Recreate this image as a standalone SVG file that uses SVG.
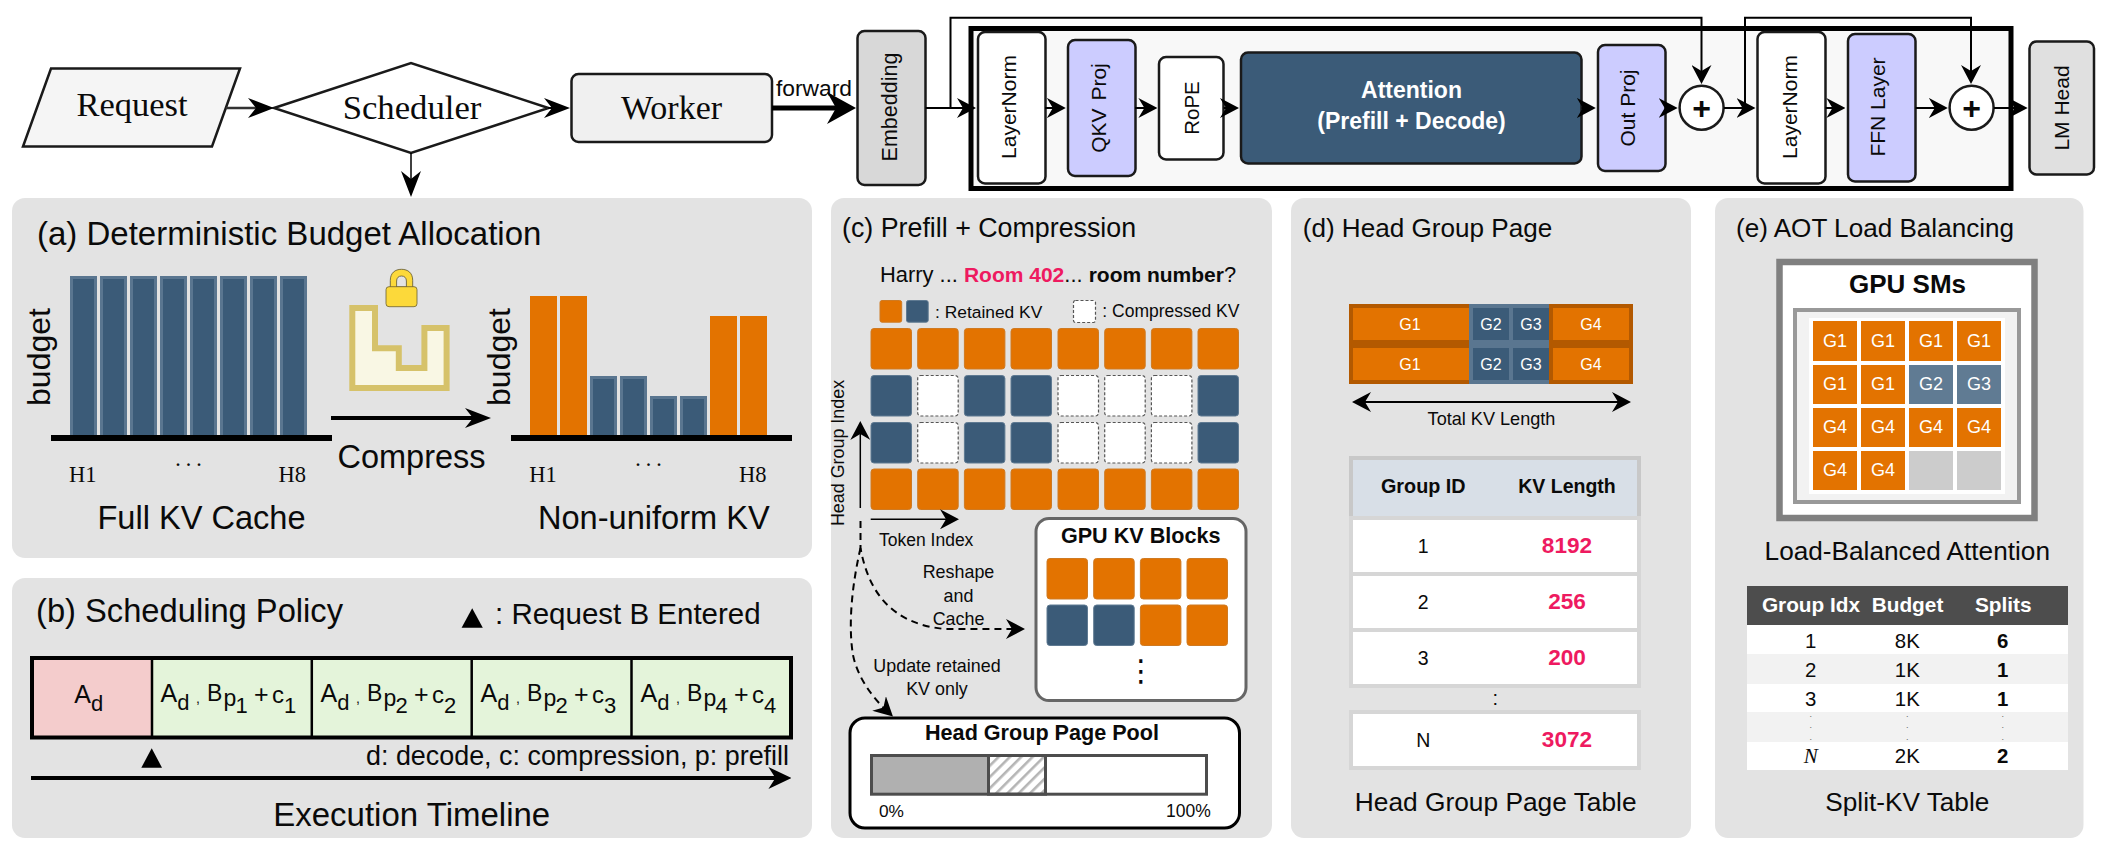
<svg xmlns="http://www.w3.org/2000/svg" width="2102" height="847" viewBox="0 0 2102 847">
<style>
text{font-family:"Liberation Sans",Arial,sans-serif;fill:#0a0a0a}
.serif{font-family:"Liberation Serif","Times New Roman",serif}
.b{font-weight:bold}
.m{text-anchor:middle}
.w{fill:#fff}
.pink{fill:#ee1a60}
.panel{fill:#e3e3e3}
.nd{stroke:#1a1a1a;stroke-width:2.5}
.bar{fill:#3b5b78;stroke:#5a7690;stroke-width:3}
.obar{fill:#e37300}
.axis{fill:#000}
.ko{fill:#e37300;stroke:#cf7a22;stroke-width:1}
.kb{fill:#3b5b78;stroke:#5f7a92;stroke-width:1}
.kd{fill:#fff;stroke:#555;stroke-width:1.2;stroke-dasharray:3 2}
.or{fill:#e37300}
.bl{fill:#3b5b78}
.sm{fill:#607b93}
.ln{fill:none;stroke:#000;stroke-width:2}
.dash{fill:none;stroke:#000;stroke-width:2;stroke-dasharray:7 5}
.tc{stroke:#000;stroke-width:2.5}
.tiny{font-size:9px;fill:#666}
</style>
<defs>
<marker id="ha" markerUnits="userSpaceOnUse" markerWidth="26" markerHeight="20" viewBox="0 0 26 20" refX="13" refY="10" orient="auto"><path d="M0 0L26 10L0 20L8 10Z"/></marker>
<marker id="hb" markerUnits="userSpaceOnUse" markerWidth="19" markerHeight="20" viewBox="0 0 19 20" refX="9.5" refY="10" orient="auto-start-reverse"><path d="M0 0L19 10L0 20L6 10Z"/></marker>
<marker id="hc" markerUnits="userSpaceOnUse" markerWidth="29" markerHeight="32" viewBox="0 0 29 32" refX="14.5" refY="16" orient="auto"><path d="M0 0L29 16L0 32L9 16Z"/></marker>
<marker id="ht" markerUnits="userSpaceOnUse" markerWidth="23" markerHeight="22" viewBox="0 0 23 22" refX="11.5" refY="11" orient="auto"><path d="M0 0L23 11L0 22L7 11Z"/></marker>
<pattern id="hatch" patternUnits="userSpaceOnUse" width="8" height="8" patternTransform="rotate(45)"><rect width="8" height="8" fill="#fff"/><rect x="0" y="0" width="2.6" height="8" fill="#b5b5b5"/></pattern>
</defs>

<g id="panel-a">
<rect class="panel" x="12" y="198" width="800" height="360" rx="13"/>
<text x="37" y="245" font-size="33">(a) Deterministic Budget Allocation</text>
<rect class="bar" x="71.5" y="277.5" width="24" height="159"/><rect class="bar" x="101.5" y="277.5" width="24" height="159"/><rect class="bar" x="131.5" y="277.5" width="24" height="159"/><rect class="bar" x="161.5" y="277.5" width="24" height="159"/><rect class="bar" x="191.5" y="277.5" width="24" height="159"/><rect class="bar" x="221.5" y="277.5" width="24" height="159"/><rect class="bar" x="251.5" y="277.5" width="24" height="159"/><rect class="bar" x="281.5" y="277.5" width="24" height="159"/>
<rect class="axis" x="51" y="435" width="281" height="6"/>
<text transform="translate(50,357) rotate(-90)" class="m" font-size="32">budget</text>
<text class="serif" x="69" y="481.7" font-size="22.5">H1</text>
<text class="serif m" x="190" y="472" font-size="22.5" letter-spacing="3">···</text>
<text class="serif" x="278.5" y="481.7" font-size="22.5">H8</text>
<text class="m" x="201.5" y="529" font-size="32.6">Full KV Cache</text>
<g id="lock">
<path d="M352.3 308H375V348.3H398.8V368H424.4V328H446.6V388H352.3Z" fill="#f9f7e4" stroke="#d6c26a" stroke-width="6"/>
<path d="M390.3 288V280.5C390.3 273 395 269.3 401.5 269.3C408 269.3 412.7 273 412.7 280.5V288Z" fill="#fcd93a" stroke="#5c5430" stroke-width="0.8"/>
<path d="M396.6 287V281C396.6 277.8 398.6 276 401.5 276C404.4 276 406.4 277.8 406.4 281V287Z" fill="#e3e3e3" stroke="#5c5430" stroke-width="0.8"/>
<rect x="386" y="286.7" width="31" height="20" rx="3" fill="#fcd93a" stroke="#6b5f30" stroke-width="0.8"/>
</g>
<text x="337.5" y="468" font-size="32.5">Compress</text>
<rect class="obar" x="530" y="296" width="27" height="140"/><rect class="obar" x="560" y="296" width="27" height="140"/>
<rect class="bar" x="591.5" y="377.5" width="24" height="59"/><rect class="bar" x="621.5" y="377.5" width="24" height="59"/><rect class="bar" x="651.5" y="397.5" width="24" height="39"/><rect class="bar" x="681.5" y="397.5" width="24" height="39"/>
<rect class="obar" x="710" y="316" width="27" height="120"/><rect class="obar" x="740" y="316" width="27" height="120"/>
<rect class="axis" x="511" y="435" width="281" height="6"/>
<text transform="translate(510,357) rotate(-90)" class="m" font-size="32">budget</text>
<text class="serif" x="529.3" y="481.7" font-size="22.5">H1</text>
<text class="serif m" x="650" y="472" font-size="22.5" letter-spacing="3">···</text>
<text class="serif" x="739" y="481.7" font-size="22.5">H8</text>
<text class="m" x="653.8" y="529" font-size="32.6">Non-uniform KV</text>
</g>

<g id="panel-b">
<rect class="panel" x="12" y="578" width="800" height="260" rx="13"/>
<text x="36" y="622.3" font-size="32.7">(b) Scheduling Policy</text>
<path d="M472.2 608.3L482.8 627.7H461.6Z"/>
<text x="495" y="624.3" font-size="29.5">: Request B Entered</text>
<rect x="32" y="658" width="120" height="79.5" fill="#f4cccc"/>
<rect x="152" y="658" width="639" height="79.5" fill="#e4f4da"/>
<rect x="32" y="658" width="759" height="79.5" fill="none" stroke="#000" stroke-width="4"/>
<path class="tc" d="M152 658V737.5M311.8 658V737.5M471.7 658V737.5M631.5 658V737.5" fill="none"/>
<text font-size="25"><tspan x="74.3" y="703">A</tspan><tspan x="91" y="711" font-size="22">d</tspan></text>
<text font-size="25"><tspan x="160.4" y="702">A</tspan><tspan x="177.3" y="710" font-size="22">d</tspan><tspan x="196" y="703" font-size="14">,</tspan><tspan x="207" y="701" font-size="23">B</tspan><tspan x="223.5" y="706" font-size="23">p</tspan><tspan x="235.5" y="713" font-size="22">1</tspan><tspan x="254" y="703">+</tspan><tspan x="272" y="703" font-size="24">c</tspan><tspan x="284" y="713" font-size="22">1</tspan></text>
<text font-size="25"><tspan x="320.4" y="702">A</tspan><tspan x="337.3" y="710" font-size="22">d</tspan><tspan x="356" y="703" font-size="14">,</tspan><tspan x="367" y="701" font-size="23">B</tspan><tspan x="383.5" y="706" font-size="23">p</tspan><tspan x="395.5" y="713" font-size="22">2</tspan><tspan x="414" y="703">+</tspan><tspan x="432" y="703" font-size="24">c</tspan><tspan x="444" y="713" font-size="22">2</tspan></text>
<text font-size="25"><tspan x="480.4" y="702">A</tspan><tspan x="497.3" y="710" font-size="22">d</tspan><tspan x="516" y="703" font-size="14">,</tspan><tspan x="527" y="701" font-size="23">B</tspan><tspan x="543.5" y="706" font-size="23">p</tspan><tspan x="555.5" y="713" font-size="22">2</tspan><tspan x="574" y="703">+</tspan><tspan x="592" y="703" font-size="24">c</tspan><tspan x="604" y="713" font-size="22">3</tspan></text>
<text font-size="25"><tspan x="640.4" y="702">A</tspan><tspan x="657.3" y="710" font-size="22">d</tspan><tspan x="676" y="703" font-size="14">,</tspan><tspan x="687" y="701" font-size="23">B</tspan><tspan x="703.5" y="706" font-size="23">p</tspan><tspan x="715.5" y="713" font-size="22">4</tspan><tspan x="734" y="703">+</tspan><tspan x="752" y="703" font-size="24">c</tspan><tspan x="764" y="713" font-size="22">4</tspan></text>
<path d="M151.7 748.3L162 767.7H141.3Z"/>
<text x="366" y="765" font-size="26.9">d: decode, c: compression, p: prefill</text>
<text class="m" x="411.7" y="826" font-size="33">Execution Timeline</text>
</g>

<g id="panel-c">
<rect class="panel" x="831" y="198" width="441" height="640" rx="13"/>
<text x="842" y="236.7" font-size="26.8">(c) Prefill + Compression</text>
<text x="880" y="281.7" font-size="21.9">Harry ... <tspan class="b pink" font-size="21">Room 402</tspan>... <tspan class="b" font-size="21">room number</tspan>?</text>
<rect class="ko" x="880" y="300.5" width="21.7" height="21.7" rx="2"/><rect class="kb" x="906.5" y="300.5" width="21.7" height="21.7" rx="2"/>
<text x="935" y="318.3" font-size="17.4">: Retained KV</text>
<rect class="kd" x="1073.5" y="300.5" width="22" height="22" rx="2"/>
<text x="1102.3" y="316.7" font-size="17.5">: Compressed KV</text>
<g id="kv-grid">
<rect class="ko" x="871" y="328.5" width="40.5" height="40.5" rx="3"/><rect class="ko" x="917.7" y="328.5" width="40.5" height="40.5" rx="3"/><rect class="ko" x="964.4" y="328.5" width="40.5" height="40.5" rx="3"/><rect class="ko" x="1011" y="328.5" width="40.5" height="40.5" rx="3"/><rect class="ko" x="1058" y="328.5" width="40.5" height="40.5" rx="3"/><rect class="ko" x="1104.7" y="328.5" width="40.5" height="40.5" rx="3"/><rect class="ko" x="1151.4" y="328.5" width="40.5" height="40.5" rx="3"/><rect class="ko" x="1198" y="328.5" width="40.5" height="40.5" rx="3"/>
<rect class="kb" x="871" y="375.5" width="40.5" height="40.5" rx="3"/><rect class="kd" x="917.7" y="375.5" width="40.5" height="40.5" rx="3"/><rect class="kb" x="964.4" y="375.5" width="40.5" height="40.5" rx="3"/><rect class="kb" x="1011" y="375.5" width="40.5" height="40.5" rx="3"/><rect class="kd" x="1058" y="375.5" width="40.5" height="40.5" rx="3"/><rect class="kd" x="1104.7" y="375.5" width="40.5" height="40.5" rx="3"/><rect class="kd" x="1151.4" y="375.5" width="40.5" height="40.5" rx="3"/><rect class="kb" x="1198" y="375.5" width="40.5" height="40.5" rx="3"/>
<rect class="kb" x="871" y="422.5" width="40.5" height="40.5" rx="3"/><rect class="kd" x="917.7" y="422.5" width="40.5" height="40.5" rx="3"/><rect class="kb" x="964.4" y="422.5" width="40.5" height="40.5" rx="3"/><rect class="kb" x="1011" y="422.5" width="40.5" height="40.5" rx="3"/><rect class="kd" x="1058" y="422.5" width="40.5" height="40.5" rx="3"/><rect class="kd" x="1104.7" y="422.5" width="40.5" height="40.5" rx="3"/><rect class="kd" x="1151.4" y="422.5" width="40.5" height="40.5" rx="3"/><rect class="kb" x="1198" y="422.5" width="40.5" height="40.5" rx="3"/>
<rect class="ko" x="871" y="469" width="40.5" height="40.5" rx="3"/><rect class="ko" x="917.7" y="469" width="40.5" height="40.5" rx="3"/><rect class="ko" x="964.4" y="469" width="40.5" height="40.5" rx="3"/><rect class="ko" x="1011" y="469" width="40.5" height="40.5" rx="3"/><rect class="ko" x="1058" y="469" width="40.5" height="40.5" rx="3"/><rect class="ko" x="1104.7" y="469" width="40.5" height="40.5" rx="3"/><rect class="ko" x="1151.4" y="469" width="40.5" height="40.5" rx="3"/><rect class="ko" x="1198" y="469" width="40.5" height="40.5" rx="3"/>
</g>
<text transform="translate(844,453) rotate(-90)" class="m" font-size="17.9">Head Group Index</text>
<text x="879" y="545.7" font-size="17.5">Token Index</text>
<text class="m" x="958.5" y="577.7" font-size="17.9">Reshape</text>
<text class="m" x="958.5" y="601.7" font-size="17.9">and</text>
<text class="m" x="958.5" y="625" font-size="17.9">Cache</text>
<text class="m" x="937" y="672" font-size="17.9">Update retained</text>
<text class="m" x="937" y="695" font-size="17.9">KV only</text>
</g>

<g id="gpu-kv-blocks">
<rect x="1036" y="518.5" width="210" height="182" rx="13" fill="#fff" stroke="#666" stroke-width="3"/>
<text class="b m" x="1140.7" y="543.3" font-size="21.6">GPU KV Blocks</text>
<rect class="ko" x="1047" y="558.5" width="40.5" height="40.5" rx="3"/><rect class="ko" x="1093.7" y="558.5" width="40.5" height="40.5" rx="3"/><rect class="ko" x="1140.4" y="558.5" width="40.5" height="40.5" rx="3"/><rect class="ko" x="1187" y="558.5" width="40.5" height="40.5" rx="3"/>
<rect class="kb" x="1047" y="605" width="40.5" height="40.5" rx="3"/><rect class="kb" x="1093.7" y="605" width="40.5" height="40.5" rx="3"/><rect class="ko" x="1140.4" y="605" width="40.5" height="40.5" rx="3"/><rect class="ko" x="1187" y="605" width="40.5" height="40.5" rx="3"/>
<text class="m" x="1141" y="681" font-size="30" style="font-family:'DejaVu Sans',sans-serif">⋮</text>
</g>

<g id="head-group-page-pool">
<rect x="850" y="718" width="389.5" height="110" rx="15" fill="#fff" stroke="#000" stroke-width="3"/>
<text class="b m" x="1042" y="740" font-size="21.6">Head Group Page Pool</text>
<rect x="871.5" y="755.5" width="335" height="38.7" fill="#fff"/>
<rect x="871.5" y="755.5" width="117" height="38.7" fill="#b0b0b0"/>
<rect x="988.5" y="755.5" width="57" height="38.7" fill="url(#hatch)"/>
<rect x="871.5" y="755.5" width="335" height="38.7" fill="none" stroke="#4d4d4d" stroke-width="3"/>
<rect x="988.5" y="755.5" width="57" height="38.7" fill="none" stroke="#4d4d4d" stroke-width="3"/>
<text x="879" y="816.7" font-size="17.3">0%</text>
<text x="1166" y="816.7" font-size="17.5">100%</text>
</g>

<g id="panel-d">
<rect class="panel" x="1291" y="198" width="400" height="640" rx="13"/>
<text x="1302.7" y="236.7" font-size="26.1">(d) Head Group Page</text>
<g id="page-layout">
<rect x="1349" y="304" width="284" height="80" fill="#b35900"/>
<rect x="1469" y="304" width="80" height="80" fill="#5a7690"/>
<rect class="or" x="1353" y="308" width="116" height="32"/><rect class="or" x="1353" y="348" width="116" height="32"/>
<rect class="bl" x="1473" y="308" width="36" height="32"/><rect class="bl" x="1473" y="348" width="36" height="32"/>
<rect class="bl" x="1513" y="308" width="36" height="32"/><rect class="bl" x="1513" y="348" width="36" height="32"/>
<rect class="or" x="1553" y="308" width="76" height="32"/><rect class="or" x="1553" y="348" width="76" height="32"/>
<text class="w m" x="1410" y="330" font-size="16">G1</text><text class="w m" x="1491" y="330" font-size="16">G2</text><text class="w m" x="1531" y="330" font-size="16">G3</text><text class="w m" x="1591" y="330" font-size="16">G4</text>
<text class="w m" x="1410" y="370" font-size="16">G1</text><text class="w m" x="1491" y="370" font-size="16">G2</text><text class="w m" x="1531" y="370" font-size="16">G3</text><text class="w m" x="1591" y="370" font-size="16">G4</text>
</g>
<text class="m" x="1491.5" y="425" font-size="18.1">Total KV Length</text>
<g id="page-table">
<rect x="1351" y="458" width="288" height="60" fill="#d8dfe7" stroke="#c8c8c8" stroke-width="4"/>
<rect x="1351" y="518" width="288" height="56" fill="#fff" stroke="#d6d6d6" stroke-width="4"/>
<rect x="1351" y="574" width="288" height="56" fill="#fff" stroke="#d6d6d6" stroke-width="4"/>
<rect x="1351" y="630" width="288" height="56" fill="#fff" stroke="#d6d6d6" stroke-width="4"/>
<rect x="1351" y="712" width="288" height="56" fill="#fff" stroke="#d6d6d6" stroke-width="4"/>
<text class="b m" x="1423.3" y="492.7" font-size="19.8">Group ID</text>
<text class="b m" x="1567" y="492.7" font-size="19.5">KV Length</text>
<text class="m" x="1423.3" y="553.3" font-size="19.5">1</text><text class="b m pink" x="1567" y="553.3" font-size="22.6">8192</text>
<text class="m" x="1423.3" y="609.3" font-size="19.5">2</text><text class="b m pink" x="1567" y="609.3" font-size="22.6">256</text>
<text class="m" x="1423.3" y="665.3" font-size="19.5">3</text><text class="b m pink" x="1567" y="665.3" font-size="22.6">200</text>
<text class="m" x="1495.3" y="704.7" font-size="20">:</text>
<text class="m" x="1423.3" y="747.3" font-size="19.5">N</text><text class="b m pink" x="1567" y="747.3" font-size="22.6">3072</text>
</g>
<text class="m" x="1495.7" y="811" font-size="26.3">Head Group Page Table</text>
</g>

<g id="panel-e">
<rect class="panel" x="1715" y="198" width="368.5" height="640" rx="13"/>
<text x="1736" y="236.7" font-size="26.1">(e) AOT Load Balancing</text>
<rect x="1779.5" y="262" width="255" height="256" fill="#fff" stroke="#808080" stroke-width="6.5"/>
<text class="b m" x="1907.5" y="292.7" font-size="26">GPU SMs</text>
<rect x="1795" y="310" width="224" height="192" fill="#f2f2f2" stroke="#999" stroke-width="4"/>
<rect x="1809" y="318" width="196" height="176" fill="#fff"/>
<rect class="or" x="1813" y="321" width="44" height="40"/><rect class="or" x="1861" y="321" width="44" height="40"/><rect class="or" x="1909" y="321" width="44" height="40"/><rect class="or" x="1957" y="321" width="44" height="40"/>
<rect class="or" x="1813" y="365" width="44" height="39"/><rect class="or" x="1861" y="365" width="44" height="39"/><rect class="sm" x="1909" y="365" width="44" height="39"/><rect class="sm" x="1957" y="365" width="44" height="39"/>
<rect class="or" x="1813" y="408" width="44" height="39"/><rect class="or" x="1861" y="408" width="44" height="39"/><rect class="or" x="1909" y="408" width="44" height="39"/><rect class="or" x="1957" y="408" width="44" height="39"/>
<rect class="or" x="1813" y="451" width="44" height="39"/><rect class="or" x="1861" y="451" width="44" height="39"/><rect x="1909" y="451" width="44" height="39" fill="#ccc"/><rect x="1957" y="451" width="44" height="39" fill="#ccc"/>
<text class="w m" x="1835" y="347.3" font-size="18">G1</text><text class="w m" x="1883" y="347.3" font-size="18">G1</text><text class="w m" x="1931" y="347.3" font-size="18">G1</text><text class="w m" x="1979" y="347.3" font-size="18">G1</text>
<text class="w m" x="1835" y="390.3" font-size="18">G1</text><text class="w m" x="1883" y="390.3" font-size="18">G1</text><text class="w m" x="1931" y="390.3" font-size="18">G2</text><text class="w m" x="1979" y="390.3" font-size="18">G3</text>
<text class="w m" x="1835" y="433.3" font-size="18">G4</text><text class="w m" x="1883" y="433.3" font-size="18">G4</text><text class="w m" x="1931" y="433.3" font-size="18">G4</text><text class="w m" x="1979" y="433.3" font-size="18">G4</text>
<text class="w m" x="1835" y="476.3" font-size="18">G4</text><text class="w m" x="1883" y="476.3" font-size="18">G4</text>
<text class="m" x="1907.3" y="560" font-size="26.2">Load-Balanced Attention</text>
<g id="split-table">
<rect x="1747" y="586" width="321" height="39" fill="#4d4d4d"/>
<rect x="1747" y="625" width="321" height="145" fill="#fff"/>
<rect x="1747" y="654" width="321" height="30" fill="#f2f2f2"/>
<rect x="1747" y="712" width="321" height="30" fill="#f2f2f2"/>
<text class="b w m" x="1811" y="611.7" font-size="20.8">Group Idx</text><text class="b w m" x="1907.5" y="611.7" font-size="20.8">Budget</text><text class="b w m" x="2003.3" y="611.7" font-size="20.8">Splits</text>
<text class="m" x="1810.7" y="647.7" font-size="20.4">1</text><text class="m" x="1907.3" y="647.7" font-size="20.4">8K</text><text class="b m" x="2002.7" y="647.7" font-size="20.4">6</text>
<text class="m" x="1810.7" y="676.7" font-size="20.4">2</text><text class="m" x="1907.3" y="676.7" font-size="20.4">1K</text><text class="b m" x="2002.7" y="676.7" font-size="20.4">1</text>
<text class="m" x="1810.7" y="705.7" font-size="20.4">3</text><text class="m" x="1907.3" y="705.7" font-size="20.4">1K</text><text class="b m" x="2002.7" y="705.7" font-size="20.4">1</text>
<text class="m tiny"><tspan x="1810.7" y="717">.</tspan><tspan x="1810.7" y="728.3">.</tspan><tspan x="1810.7" y="740">.</tspan></text><text class="m tiny"><tspan x="1907.3" y="717">.</tspan><tspan x="1907.3" y="728.3">.</tspan><tspan x="1907.3" y="740">.</tspan></text><text class="m tiny"><tspan x="2002.7" y="717">.</tspan><tspan x="2002.7" y="728.3">.</tspan><tspan x="2002.7" y="740">.</tspan></text>
<text class="serif m" x="1810.7" y="762.7" font-size="21" font-style="italic">N</text><text class="m" x="1907.3" y="762.7" font-size="20.4">2K</text><text class="b m" x="2002.7" y="762.7" font-size="20.4">2</text>
</g>
<text class="m" x="1907.3" y="811" font-size="26.2">Split-KV Table</text>
</g>

<g id="transformer-block"><rect x="971" y="28.5" width="1040" height="160" fill="#f8f8f8" stroke="#000" stroke-width="5"/></g>

<g id="request"><path class="nd" d="M51 68.5H240L212 146.5H23Z" fill="#f5f5f5" stroke-width="3"/><text class="serif m" x="132" y="116" font-size="34.5">Request</text></g>
<g id="scheduler"><path class="nd" d="M274 108L411 63L548.5 108L411 153Z" fill="#fff" stroke-width="3"/><text class="serif m" x="412" y="119" font-size="34.7">Scheduler</text></g>
<g id="worker"><rect class="nd" x="571.5" y="74" width="200.5" height="68" rx="7" fill="#f0f0f0" stroke-width="3"/><text class="serif m" x="671.5" y="119" font-size="34">Worker</text></g>
<g id="embedding"><rect class="nd" x="857.5" y="31" width="68" height="154" rx="7" fill="#d8d8d8"/><text transform="translate(897,107) rotate(-90)" class="m" font-size="21.5">Embedding</text></g>
<g id="layernorm-1"><rect class="nd" x="978" y="32" width="67.5" height="151.5" rx="7" fill="#fff"/><text transform="translate(1015.5,107) rotate(-90)" class="m" font-size="21">LayerNorm</text></g>
<g id="qkv-proj"><rect class="nd" x="1068" y="40" width="67.5" height="136" rx="7" fill="#ccf"/><text transform="translate(1105.5,108) rotate(-90)" class="m" font-size="21" word-spacing="2">QKV Proj</text></g>
<g id="rope"><rect class="nd" x="1159" y="57" width="64.5" height="102.5" rx="7" fill="#fff"/><text transform="translate(1199,108) rotate(-90)" class="m" font-size="20.5">RoPE</text></g>
<g id="attention"><rect class="nd" x="1241" y="52.5" width="340.5" height="111" rx="7" fill="#3b5b78"/><text class="b w m" x="1411.5" y="98.3" font-size="23">Attention</text><text class="b w m" x="1411.5" y="129.3" font-size="23">(Prefill + Decode)</text></g>
<g id="out-proj"><rect class="nd" x="1598" y="45" width="67.5" height="126" rx="7" fill="#ccf"/><text transform="translate(1635,108) rotate(-90)" class="m" font-size="21">Out Proj</text></g>
<g id="add-1"><ellipse class="nd" cx="1701.6" cy="107.7" rx="22" ry="22" fill="#fff"/><text class="b m" x="1701.6" y="119" font-size="32">+</text></g>
<g id="layernorm-2"><rect class="nd" x="1757.5" y="32" width="68" height="151.5" rx="7" fill="#fff"/><text transform="translate(1796.5,107) rotate(-90)" class="m" font-size="21">LayerNorm</text></g>
<g id="ffn-layer"><rect class="nd" x="1848" y="34" width="67.5" height="147.5" rx="7" fill="#ccf"/><text transform="translate(1885,107) rotate(-90)" class="m" font-size="21">FFN Layer</text></g>
<g id="add-2"><ellipse class="nd" cx="1971.6" cy="107.7" rx="22" ry="22" fill="#fff"/><text class="b m" x="1971.6" y="119" font-size="32">+</text></g>
<g id="lm-head"><rect class="nd" x="2029.5" y="41.5" width="64.5" height="133" rx="7" fill="#e0e0e0"/><text transform="translate(2068.5,108) rotate(-90)" class="m" font-size="21">LM Head</text></g>
<text id="forward-label" x="776" y="96" font-size="22.8">forward</text>

<g id="connectors">
<path class="ln" style="stroke:#333;stroke-width:2.5" marker-end="url(#ha)" d="M226 108H261"/>
<path class="ln" marker-end="url(#ha)" d="M548 108H557"/>
<path class="ln" style="stroke-width:5" marker-end="url(#hc)" d="M772 108H841.5"/>
<path class="ln" style="stroke-width:1.5" marker-end="url(#ha)" d="M411 153V184"/>
<path class="ln" marker-end="url(#hb)" d="M925.6 108H966.5"/>
<path class="ln" marker-end="url(#hb)" d="M950.5 108V17.7H1701.5V74.5"/>
<path class="ln" marker-end="url(#hb)" d="M1045 108H1056.3"/>
<path class="ln" marker-end="url(#hb)" d="M1135 108H1147.9"/>
<path class="ln" marker-end="url(#hb)" d="M1223.7 108H1229.5"/>
<path class="ln" marker-end="url(#hb)" d="M1581.7 108H1586.3"/>
<path class="ln" marker-end="url(#hb)" d="M1665.6 108H1668.2"/>
<path class="ln" marker-end="url(#hb)" d="M1724 108H1746"/>
<path class="ln" marker-end="url(#hb)" d="M1745 108V17.7H1971V74.5"/>
<path class="ln" marker-end="url(#hb)" d="M1825.6 108H1835.9"/>
<path class="ln" marker-end="url(#hb)" d="M1915.6 108H1938.3"/>
<path class="ln" marker-end="url(#hb)" d="M1994 108H2018.2"/>
<path class="ln" style="stroke-width:4" marker-end="url(#ha)" d="M331 418H478"/>
<path class="ln" style="stroke-width:4" marker-end="url(#ht)" d="M31 778H779.9"/>
<path class="ln" style="stroke-width:1.5" marker-end="url(#hb)" d="M860.3 508V430.5"/>
<path class="ln" style="stroke-width:1.5" marker-end="url(#hb)" d="M870.7 519.3H949.5"/>
<path class="dash" marker-end="url(#hb)" d="M860.5 521V548C868 590 890 624 945 629H1015.5"/>
<path class="dash" marker-end="url(#hb)" d="M860.5 548C852 585 848 625 853 655C857 675 870 695 886 710"/>
<path class="ln" marker-start="url(#hb)" marker-end="url(#hb)" d="M1361.5 402H1621.5"/>
</g>
</svg>
